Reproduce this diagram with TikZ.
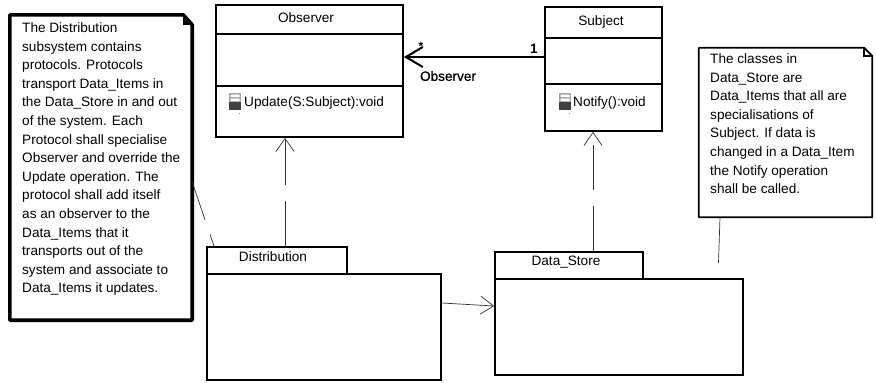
\documentclass[tikz,border=0pt]{standalone}
\usepackage{fontspec}
\setmainfont{Liberation Sans}
\newfontfamily\heavyfont[FakeBold=0.8]{Liberation Sans}
\usetikzlibrary{arrows.meta}
\tikzset{
  classbox/.style={draw, line width=1.7pt, inner sep=0pt},
  packbox/.style={draw, line width=1.7pt, inner sep=0pt},
  noteframe/.style={inner sep=0pt},
  notetext/.style={anchor=north west, inner sep=0pt, align=left, font=\fontsize{13.6}{18.6}\selectfont},
  classtext/.style={inner sep=0pt, font=\fontsize{13.6}{15}\selectfont},
  depends/.style={line width=0.7pt, black!80, dash pattern=on 45pt off 16pt, -{Straight Barb[length=13pt,width=18pt]}},
  notelink/.style={line width=0.7pt, black!80, dash pattern=on 40pt off 15pt},
}
\newcommand{\opicon}[1]{
  \begin{scope}[shift={(#1)}]
  \fill[gray!70] (0,0) rectangle (12,9);
  \fill[white] (1.5,1.5) rectangle (10.5,4) (1.5,5.5) rectangle (10.5,8);
  \fill[black!75] (0,9) rectangle (12,17);
  \fill[gray] (10,19.5) rectangle (11,20.5);
  \end{scope}
}
\begin{document}
\begin{tikzpicture}[x=1pt,y=-1pt]
\useasboundingbox (0,0) rectangle (876,383);

% Observer class
\node[classbox, minimum width=187pt, minimum height=29pt] (obsHead) at (309.5,19.5) {};
\node[classbox, minimum width=187pt, minimum height=52pt] (obsAttr) at (309.5,60) {};
\node[classbox, minimum width=187pt, minimum height=51pt] (obsOper) at (309.5,111.5) {};
\node[classtext] (obsName) at (306,18) {Observer};
\node[classtext, anchor=west] (obsUpdate) at (244,103) {Update(S:Subject):void};
\opicon{229,93}

% Subject class
\node[classbox, minimum width=117pt, minimum height=31pt] (subHead) at (603.5,22.5) {};
\node[classbox, minimum width=117pt, minimum height=46pt] (subAttr) at (603.5,61) {};
\node[classbox, minimum width=117pt, minimum height=47pt] (subOper) at (603.5,107.5) {};
\node[classtext] (subName) at (601,22) {Subject};
\node[classtext, anchor=west] (subNotify) at (573,103) {Notify():void};
\opicon{559,93}

% packages
\node[packbox, minimum width=140pt, minimum height=27pt] (distTab) at (277,260.5) {};
\node[packbox, minimum width=234pt, minimum height=106pt] (distBody) at (324,327) {};
\node[classtext] (distName) at (273,257) {Distribution};
\node[packbox, minimum width=148pt, minimum height=27pt] (storeTab) at (569,265.5) {};
\node[packbox, minimum width=248pt, minimum height=96pt] (storeBody) at (619,327) {};
\node[classtext] (storeName) at (566,262) {Data\_Store};

% notes
\node[noteframe, minimum width=182pt, minimum height=305pt] (noteDist) at (101,167.5) {};
\draw[line width=3.6pt, line join=round]
  (noteDist.north west) -- ([xshift=-9pt]noteDist.north east)
  -- ([yshift=-10pt]noteDist.north east) -- (noteDist.south east)
  -- (noteDist.south west) -- cycle;
\fill ([xshift=-9pt]noteDist.north east) -- ([yshift=-10pt]noteDist.north east)
  -- ([xshift=-9pt,yshift=-10pt]noteDist.north east) -- cycle;
\node[notetext] (noteDistText) at (22,22.5) {The Distribution\\subsystem contains\\protocols. Protocols\\transport Data\_Items in\\the Data\_Store in and out\\of the system. Each\\Protocol shall specialise\\Observer and override the\\Update operation. The\\protocol shall add itself\\as an observer to the\\Data\_Items that it\\transports out of the\\system and associate to\\Data\_Items it updates.};

\node[noteframe, minimum width=173pt, minimum height=169pt] (noteStore) at (785.5,132.5) {};
\draw[line width=1.7pt, line join=round]
  (noteStore.north west) -- ([xshift=-8pt]noteStore.north east)
  -- ([yshift=-8pt]noteStore.north east) -- (noteStore.south east)
  -- (noteStore.south west) -- cycle;
\draw[line width=1.7pt] ([xshift=-8pt]noteStore.north east) -- ([xshift=-8pt,yshift=-8pt]noteStore.north east)
  -- ([yshift=-8pt]noteStore.north east);
\node[notetext] (noteStoreText) at (710,53.5) {The classes in\\Data\_Store are\\Data\_Items that all are\\specialisations of\\Subject. If data is\\changed in a Data\_Item\\the Notify operation\\shall be called.};

% connectors
\draw[depends] ([xshift=8pt]distTab.north) -- ([xshift=-24.5pt]obsOper.south);
\draw[depends] ([xshift=24pt]storeTab.north) -- ([xshift=-10.5pt]subOper.south);
\draw[line width=0.7pt, black!80, -{Straight Barb[length=13pt,width=18pt]}] ([yshift=24pt]distBody.east) -- ([yshift=21pt]storeBody.west);
\draw[line width=2pt, -{Straight Barb[length=17pt,width=20pt,line width=2pt]}] ([yshift=4pt]subAttr.west) -- ([yshift=3pt]obsAttr.east);
\draw[notelink] ([yshift=-14.5pt]noteDist.east) -- ([xshift=-63pt]distTab.north);
\draw[notelink, dash pattern=on 46pt off 16pt] ([xshift=-65.5pt]noteStore.south) -- ([xshift=99pt]storeBody.north);

% association labels
\node[inner sep=0pt, font=\fontsize{13.6}{15}\bfseries\selectfont] (assocOne) at (534,49) {1};
\node[inner sep=0pt, font=\fontsize{12}{15}\bfseries\selectfont] (assocMany) at (421,46) {*};
\node[inner sep=0pt, font=\fontsize{13.6}{15}\heavyfont] (assocName) at (448,76) {Observer};
\end{tikzpicture}
\end{document}
